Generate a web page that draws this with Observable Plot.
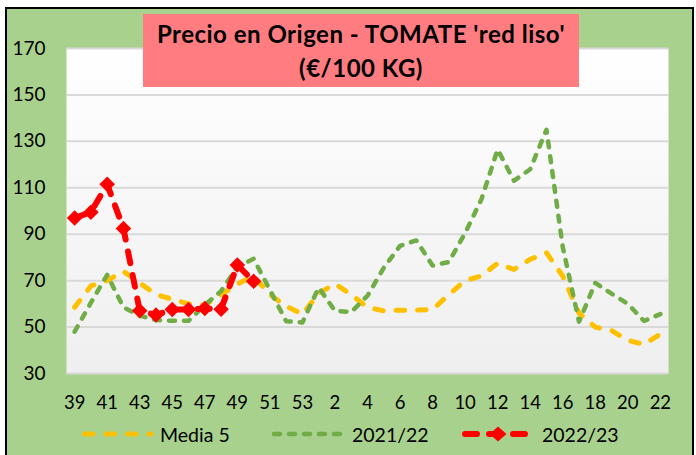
<!DOCTYPE html>
<html>
<head>
<meta charset="utf-8">
<script src="https://cdn.jsdelivr.net/npm/d3@7"></script>
<script src="https://cdn.jsdelivr.net/npm/@observablehq/plot@0.6"></script>
<style>
  html, body { margin: 0; padding: 0; background: #ffffff; }
  body { width: 696px; height: 455px; position: relative; overflow: hidden; font-family: Lato, "Open Sans", sans-serif; }
  #frame { position: absolute; left: 5px; top: 7px; width: 685px; height: 460px; background: #A9D18E; border-left: 2px solid #000; border-top: 2px solid #000; border-right: 2px solid #000; }
  #chart { position: absolute; left: 0; top: 0; }
  #title { position: absolute; left: 143px; top: 14px; width: 436px; height: 73px; background: #FF7C80; color: #000; font-weight: 700; font-size: 24px; letter-spacing: 0.5px; line-height: 34px; text-align: center; padding-top: 3px; box-sizing: border-box; white-space: nowrap; }
  .leg { position: absolute; top: 422px; height: 24px; display: flex; align-items: center; font-size: 19.5px; color: #000; white-space: nowrap; }
  .leg svg { margin-right: 6px; }
</style>
</head>
<body>
<div id="frame"></div>
<div id="chart"></div>
<div id="title">Precio en Origen - TOMATE 'red liso'<br>(€/100 KG)</div>
<div class="leg" style="left:80px"><svg width="74" height="10"><line x1="4.5" y1="5" x2="71" y2="5" stroke="#FFC000" stroke-width="5" stroke-linecap="round" stroke-dasharray="8.5,13"/></svg>Media 5</div>
<div class="leg" style="left:270px"><svg width="76" height="10"><line x1="4" y1="5" x2="72" y2="5" stroke="#70AD47" stroke-width="4.5" stroke-linecap="round" stroke-dasharray="6,9"/></svg>2021/22</div>
<div class="leg" style="left:460px"><svg width="76" height="18"><line x1="5" y1="9" x2="71" y2="9" stroke="#FF0000" stroke-width="6" stroke-linecap="round" stroke-dasharray="12,12"/><path d="M38,1.5 L46.5,9 L38,16.5 L29.5,9 Z" fill="#FF0000"/></svg>2022/23</div>
<script>
const weeks = ["39","40","41","42","43","44","45","46","47","48","49","50","51","52","53",
  "1","2","3","4","5","6","7","8","9","10","11","12","13","14","15","16","17","18","19","20","21","22"];
const media5 = [58.5, 67.7, 70, 74, 69, 64, 62, 60, 59.5, 64, 68.5, 72, 64, 59, 55.5,
  64.5, 68.6, 64, 58.5, 57, 57.3, 57.3, 57.5, 64, 70, 72, 77.5, 74.8, 79.2, 82, 72, 56, 50, 48.5, 44.3, 42.5, 47];
const season2122 = [48, 60.5, 72.5, 58.5, 55, 53, 52.7, 52.7, 59.5, 65.5, 76, 79.4, 66, 52.5, 52,
  67, 57, 56.5, 63.5, 75.5, 85, 87.3, 76.5, 78, 90.5, 105, 126.5, 113, 118, 135, 84.5, 52.3, 69, 64.4, 60, 52.6, 55.6];
const season2223 = [97, 99.5, 111.5, 92.5, 57, 55.2, 57.6, 57.6, 58, 57.7, 76.7, 69.7];
const yTicks = [30, 50, 70, 90, 110, 130, 150, 170];
const xTickLabels = weeks.filter((d, i) => i % 2 === 0);

const dMedia = media5.map((v, i) => ({week: weeks[i], value: v}));
const d2122 = season2122.map((v, i) => ({week: weeks[i], value: v}));
const d2223 = season2223.map((v, i) => ({week: weeks[i], value: v}));

const plot = Plot.plot({
  width: 696,
  height: 455,
  marginLeft: 66,
  marginRight: 28,
  marginTop: 48,
  marginBottom: 82,
  style: {background: "transparent", color: "#000", fontFamily: "Lato, 'Open Sans', sans-serif"},
  x: {type: "point", domain: weeks, padding: 0.5, round: false, label: null},
  y: {domain: [30, 170], label: null},
  marks: [
    Plot.frame({fill: "url(#plotGrad)", stroke: null}),
    Plot.ruleY(yTicks, {stroke: "#D9D9D9", strokeWidth: 2}),
    Plot.lineY(dMedia, {x: "week", y: "value", stroke: "#FFC000", strokeWidth: 5, strokeLinecap: "round", strokeLinejoin: "round", strokeDasharray: "8.5,13"}),
    Plot.lineY(d2122, {x: "week", y: "value", stroke: "#70AD47", strokeWidth: 4.5, strokeLinecap: "round", strokeLinejoin: "round", strokeDasharray: "6,9"}),
    Plot.lineY(d2223, {x: "week", y: "value", stroke: "#FF0000", strokeWidth: 6, strokeLinecap: "round", strokeLinejoin: "round", strokeDasharray: "12,12"}),
    Plot.dot(d2223, {x: "week", y: "value", symbol: "diamond2", r: 7, fill: "#FF0000", stroke: null}),
    Plot.axisY(yTicks, {tickSize: 0, tickPadding: 21, fontSize: 19, fill: "#000"}),
    Plot.axisX(xTickLabels, {tickSize: 0, tickPadding: 22, fontSize: 18.5, fill: "#000"})
  ]
});

const ns = "http://www.w3.org/2000/svg";
const defs = document.createElementNS(ns, "defs");
const grad = document.createElementNS(ns, "linearGradient");
grad.setAttribute("id", "plotGrad");
grad.setAttribute("x1", "0"); grad.setAttribute("y1", "0");
grad.setAttribute("x2", "0"); grad.setAttribute("y2", "1");
[["0%", "#FFFFFF"], ["100%", "#EFEFEF"]].forEach(([o, c]) => {
  const s = document.createElementNS(ns, "stop");
  s.setAttribute("offset", o); s.setAttribute("stop-color", c);
  grad.appendChild(s);
});
defs.appendChild(grad);
plot.insertBefore(defs, plot.firstChild);
document.getElementById("chart").appendChild(plot);
</script>
</body>
</html>
